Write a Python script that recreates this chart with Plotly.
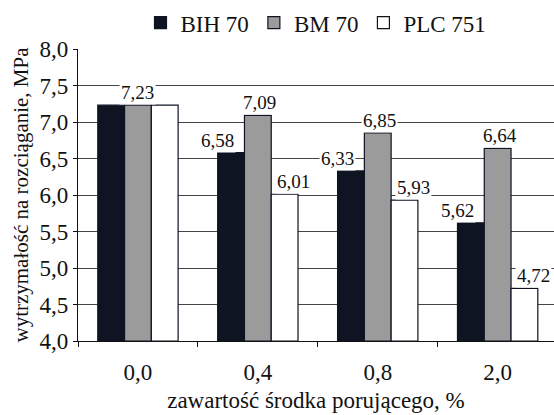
import plotly.graph_objects as go

categories = ["0,0", "0,4", "0,8", "2,0"]
series_names = ["BIH 70", "BM 70", "PLC 751"]
bih70 = [7.23, 6.58, 6.33, 5.62]
bm70 = [7.23, 7.09, 6.85, 6.64]
plc751 = [7.23, 6.01, 5.93, 4.72]
y_ticks = [4.0, 4.5, 5.0, 5.5, 6.0, 6.5, 7.0, 7.5, 8.0]

values = [bih70, bm70, plc751]
colors = ["#0e1422", "#9b9b9b", "#ffffff"]
label_shift = [-14, 2, 9]
FONT = "Liberation Serif, Times New Roman, serif"

fig = go.Figure()
for name, vals, col in zip(series_names, values, colors):
    fig.add_trace(go.Bar(
        x=categories, y=[v - y_ticks[0] for v in vals], base=y_ticks[0],
        name=name, marker=dict(color=col, line=dict(color="#0e1422", width=1.2)),
    ))

annotations = []
for si, vals in enumerate(values):
    for ci, v in enumerate(vals):
        same = [values[k][ci] for k in range(3)]
        if len(set(same)) == 1 and si != 1:
            continue
        shift = label_shift[si] if len(set(same)) > 1 else 0
        annotations.append(dict(
            x=ci + (si - 1) * 0.222, y=v, xref="x", yref="y",
            text=f"{v:.2f}".replace(".", ","), showarrow=False,
            yanchor="bottom", xanchor="center", xshift=shift, yshift=0,
            bgcolor="white", borderpad=1,
            font=dict(family=FONT, size=19, color="#111"),
        ))

fig.update_layout(
    template="none",
    width=554, height=415,
    margin=dict(l=78, r=0, t=49, b=74, autoexpand=False),
    paper_bgcolor="white", plot_bgcolor="white",
    barmode="group", bargap=0.33, bargroupgap=0,
    font=dict(family=FONT, color="#111", size=23),
    legend=dict(orientation="h", x=0.5, xanchor="center", y=1.09, yanchor="middle",
                font=dict(family=FONT, size=23), traceorder="normal",
                bgcolor="rgba(0,0,0,0)"),
    annotations=annotations,
    showlegend=True,
)
fig.update_xaxes(
    type="category", range=[-0.5, 3.47], automargin=False,
    showline=True, linecolor="#111", linewidth=1.2,
    ticks="outside", tickson="boundaries", ticklen=5, tickcolor="#111",
    tickfont=dict(family=FONT, size=23), ticklabelstandoff=10,
    title=dict(text="zawartość środka porującego, %", font=dict(family=FONT, size=23), standoff=8),
    showgrid=False,
)
fig.update_yaxes(
    range=[4, 8], tickvals=y_ticks, ticktext=[f"{t:.1f}".replace(".", ",") for t in y_ticks],
    automargin=False,
    showline=True, linecolor="#111", linewidth=1.2,
    ticks="outside", ticklen=4, tickcolor="#111",
    tickfont=dict(family=FONT, size=23),
    showgrid=True, gridcolor="#444", gridwidth=1,
    title=dict(text="wytrzymałość na rozciąganie, MPa", font=dict(family=FONT, size=21), standoff=5),
    zeroline=False,
)

fig.write_html("out.html", config={"displayModeBar": False},
               post_script="document.body.style.margin='0';")
